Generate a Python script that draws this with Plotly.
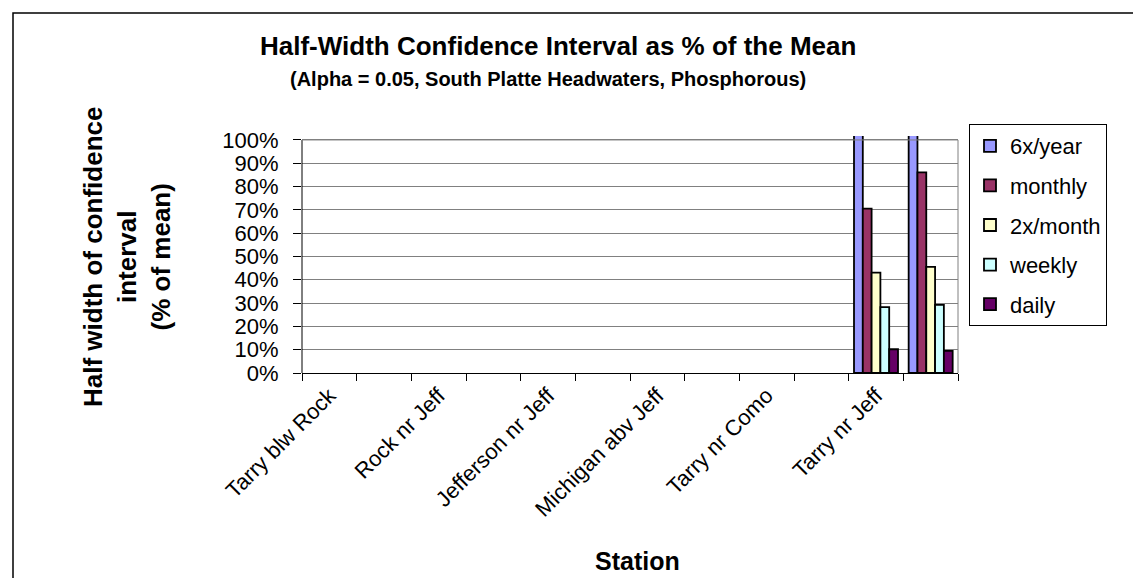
import plotly.graph_objects as go

# ---------------- data ----------------
stations = [
    "Tarry blw Rock", "Station 2", "Rock nr Jeff", "Station 4",
    "Jefferson nr Jeff", "Station 6", "Michigan abv Jeff", "Station 8",
    "Tarry nr Como", "Station 10", "Tarry nr Jeff", "Station 12",
]
label_shown = [True, False, True, False, True, False, True, False, True, False, True, False]

series_names = ["6x/year", "monthly", "2x/month", "weekly", "daily"]
six_per_year = [None] * 10 + [1.40, 1.55]
monthly = [None] * 10 + [0.705, 0.861]
twice_month = [None] * 10 + [0.431, 0.455]
weekly = [None] * 10 + [0.283, 0.292]
daily = [None] * 10 + [0.102, 0.095]
series_values = [six_per_year, monthly, twice_month, weekly, daily]
series_colors = ["#9999FF", "#993366", "#FFFFCC", "#CCFFFF", "#660066"]

y_ticks = [i / 10 for i in range(11)]
y_max_shown = 1.0     # top of the value scale
y_overshoot = 1.017   # bars are drawn a few pixels past the top gridline

# ---------------- layout geometry (pixels) ----------------
W, H = 1141, 578
L, R, T, B = 294, 950, 128, 365  # plot area edges (T includes overshoot)


def px_x(px):
    return (px - L) / (R - L)


def px_y(py):
    return (B - py) / (B - T)


FONT = "Liberation Sans, Arial, sans-serif"

fig = go.Figure()
for i, (name, vals, col) in enumerate(zip(series_names, series_values, series_colors)):
    fig.add_trace(go.Bar(
        x=stations, y=vals, name=name,
        marker=dict(color=col, line=dict(color="black", width=1.8)),
        legendgroup=f"g{i}",
    ))

fig.update_layout(
    width=W, height=H,
    margin=dict(l=L, r=W - R, t=T, b=H - B, pad=0),
    paper_bgcolor="white", plot_bgcolor="white",
    font=dict(family=FONT, color="black", size=22),
    barmode="group", bargap=0.195, bargroupgap=0,
    showlegend=True,
    legend=dict(
        x=px_x(961), y=px_y(116), xanchor="left", yanchor="top",
        bordercolor="black", borderwidth=1, bgcolor="white",
        font=dict(size=22, family=FONT), tracegroupgap=8,
        itemwidth=30,
    ),
    xaxis=dict(
        type="category", categoryorder="array", categoryarray=stations,
        tickvals=stations,
        ticktext=[s if show else "" for s, show in zip(stations, label_shown)],
        tickangle=-45, tickson="boundaries", ticks="outside", ticklen=7,
        tickcolor="black", tickfont=dict(size=22, family=FONT),
        showline=True, linecolor="black", linewidth=1, mirror=False,
        showgrid=False, zeroline=False,
    ),
    yaxis=dict(
        range=[0, y_overshoot], tickvals=y_ticks, tickformat=".0%",
        ticks="outside", ticklen=8, tickcolor="black",
        tickfont=dict(size=22, family=FONT), ticklabelstandoff=10,
        showline=False,
        showgrid=True, gridcolor="#808080", gridwidth=1,
        zeroline=False,
    ),
)

# value axis line (black) from 0% to 100%
fig.add_shape(type="line", xref="paper", yref="y", x0=0, x1=0, y0=0, y1=y_max_shown,
              line=dict(color="black", width=1))
# plot area top/right border (grey)
fig.add_shape(type="line", xref="paper", yref="y", x0=0, x1=1, y0=y_max_shown, y1=y_max_shown,
              line=dict(color="#808080", width=1))
fig.add_shape(type="line", xref="paper", yref="y", x0=1, x1=1, y0=0, y1=y_max_shown,
              line=dict(color="#808080", width=1))
# chart area border
fig.add_shape(type="rect", xref="paper", yref="paper",
              x0=px_x(5), x1=px_x(1133), y0=px_y(576), y1=px_y(5),
              line=dict(color="black", width=1.5), layer="below")

annotations = [
    dict(text="<b>Half-Width Confidence Interval as % of the Mean</b>",
         x=px_x(550), y=px_y(38), font=dict(size=26, family=FONT)),
    dict(text="<b>(Alpha = 0.05, South Platte Headwaters, Phosphorous)</b>",
         x=px_x(540), y=px_y(71), font=dict(size=20, family=FONT)),
    dict(text="<b>Station</b>", x=px_x(629), y=px_y(553), font=dict(size=25, family=FONT)),
    dict(text="<b>Half width of confidence<br>interval<br>(% of mean)</b>",
         x=px_x(119), y=px_y(249), textangle=-90, font=dict(size=26, family=FONT)),
]
for a in annotations:
    a.update(xref="paper", yref="paper", showarrow=False, xanchor="center", yanchor="middle")
    fig.add_annotation(**a)

fig.write_html("out.html")
